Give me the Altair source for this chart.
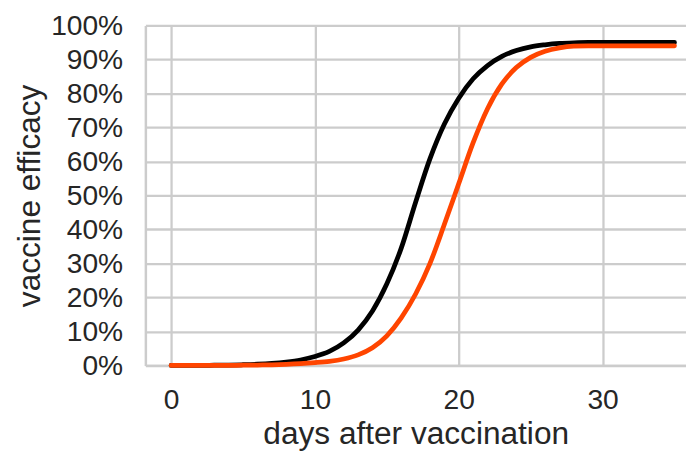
import altair as alt
import pandas as pd

# days after vaccination
days = list(range(0, 36))

# vaccine efficacy (%) - black curve
black_eff = [0.0, 0.0, 0.0, 0.05, 0.1, 0.2, 0.35, 0.6, 1.0, 1.6,
             2.6, 4.1, 6.6, 10.4, 16.0, 24.0, 34.5, 48.0, 60.8, 71.0,
             78.6, 84.3, 88.2, 90.9, 92.6, 93.7, 94.3, 94.7, 94.9, 95.0,
             95.0, 95.0, 95.0, 95.0, 95.0, 95.0]

# vaccine efficacy (%) - orange curve
orange_eff = [0.0, 0.0, 0.0, 0.0, 0.02, 0.05, 0.1, 0.18, 0.3, 0.5,
              0.8, 1.2, 1.9, 3.1, 5.2, 8.7, 14.0, 21.0, 30.0, 41.5,
              53.5, 65.5, 75.5, 82.8, 87.6, 90.6, 92.4, 93.4, 93.9, 94.0,
              94.0, 94.0, 94.0, 94.0, 94.0, 94.0]

x_ticks = [0, 10, 20, 30]
y_ticks = [0, 10, 20, 30, 40, 50, 60, 70, 80, 90, 100]

df = pd.DataFrame({"day": days, "black": black_eff, "orange": orange_eff})

FONT = "Liberation Sans"
TXT = "#262626"
GRID = "#cccccc"

x_enc = alt.X(
    "day:Q",
    scale=alt.Scale(domain=[-1.79, 35.8], nice=False, zero=False),
    axis=alt.Axis(
        values=x_ticks, title="days after vaccination", grid=True,
        ticks=False, domain=True, domainColor=GRID, domainWidth=2.5,
        labelPadding=21, titlePadding=5,
        labelFontSize=28.5, titleFontSize=32, labelFont=FONT, titleFont=FONT,
        labelColor=TXT, titleColor=TXT, titleFontWeight="normal",
        gridColor=GRID, gridWidth=2.3, gridOpacity=1,
    ),
)

y_axis = alt.Axis(
    values=y_ticks, title="vaccine efficacy", grid=True, ticks=False,
    domain=True, domainColor=GRID, domainWidth=2.5,
    labelPadding=23, titlePadding=4,
    labelExpr="datum.value + '%'",
    labelFontSize=28.5, titleFontSize=32, labelFont=FONT, titleFont=FONT,
    labelColor=TXT, titleColor=TXT, titleFontWeight="normal",
    gridColor=GRID, gridWidth=2.3, gridOpacity=1,
)
y_scale = alt.Scale(domain=[0, 100], nice=False)

base = alt.Chart(df)

black_line = base.mark_line(
    color="#000000", strokeWidth=4.8, strokeCap="round", interpolate="monotone"
).encode(x=x_enc, y=alt.Y("black:Q", scale=y_scale, axis=y_axis))

orange_line = base.mark_line(
    color="#FF4500", strokeWidth=4.8, strokeCap="round", interpolate="monotone"
).encode(x=x_enc, y=alt.Y("orange:Q", scale=y_scale, axis=y_axis))

chart = (
    alt.layer(black_line, orange_line)
    .properties(
        width=547,
        height=344,
        autosize=alt.AutoSizeParams(type="none"),
        padding={"left": 139, "top": 15, "right": 0, "bottom": 85},
        background="white",
    )
    .configure_view(stroke=None)
)

chart.save("out.html", embed_options={"renderer": "svg", "actions": False})
